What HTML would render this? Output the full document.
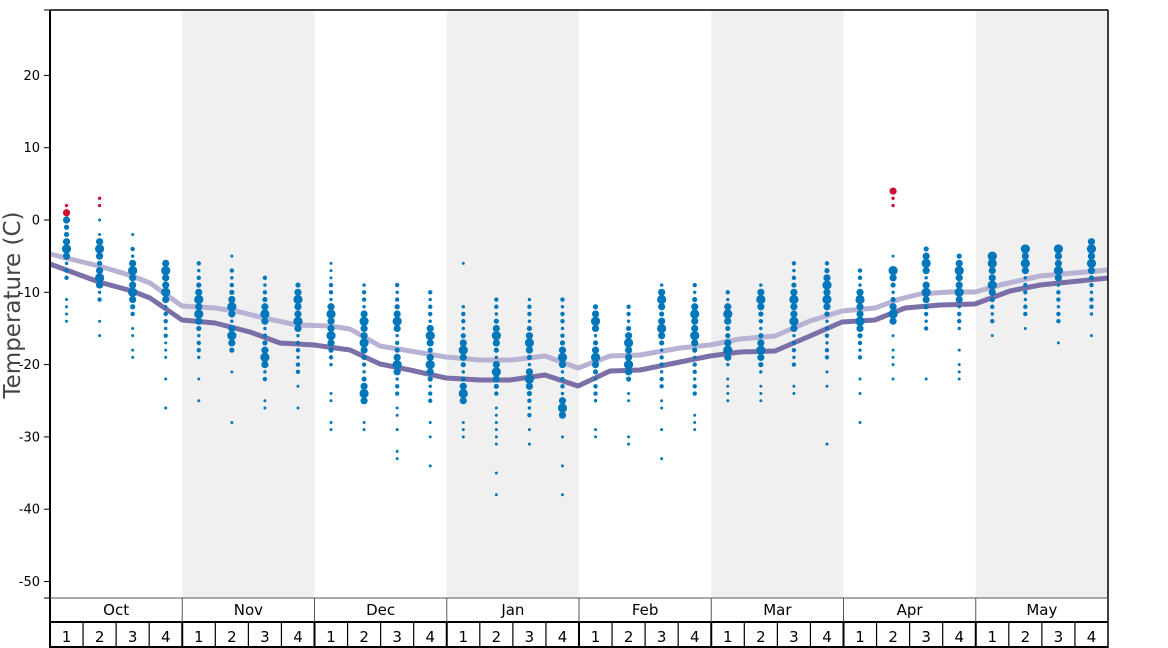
<!DOCTYPE html>
<html><head><meta charset="utf-8"><style>
body{margin:0;background:#fff}
svg{display:block;font-family:"DejaVu Sans","Liberation Sans",sans-serif}
</style></head><body>
<svg id="s" width="1168" height="648" viewBox="0 0 1168 648" xmlns="http://www.w3.org/2000/svg">
<rect width="1168" height="648" fill="#fff"/>
<g id="bg"></g>
<g id="lines"></g>
<g id="dots"></g>
<g id="axes"></g>
<text transform="translate(20,305) rotate(-90)" text-anchor="middle" font-size="23" fill="#444">Temperature (C)</text>
</svg>
<script>
const NS="http://www.w3.org/2000/svg";
function el(p,t,a,txt){const e=document.createElementNS(NS,t);for(const k in a)e.setAttribute(k,a[k]);if(txt!==undefined)e.textContent=txt;p.appendChild(e);return e;}
const X0=50,X1=1108,MW=(X1-X0)/8,WW=MW/4;
const Y=t=>220-t*7.23;
const bg=document.getElementById('bg'),dots=document.getElementById('dots'),ax=document.getElementById('axes'),ln=document.getElementById('lines');
for(let m=1;m<8;m+=2)el(bg,'rect',{x:X0+m*MW,y:10,width:MW,height:588,fill:'#f0f0f0'});
const light=[[50,254],[66,258],[99,266],[132,276],[150,283],[182,306],[215,308],[240,312],[264,318],[297,325],[330,326],[350,329],[380,346],[410,351],[446,357],[480,360],[512,360],[545,356],[578,368],[610,356],[640,355],[680,348],[710,345],[740,339],[775,336],[810,321],[842,311],[875,308],[900,299],[920,294],[950,292],[975,292],[1000,285],[1040,276],[1108,270]];
const dark=[[50,264],[99,282],[132,291],[150,298],[182,320],[215,323],[250,332],[280,343],[314,345],[350,350],[380,364],[410,370],[446,378],[480,380],[510,380],[545,375],[578,386],[610,371],[640,370],[680,362],[710,356],[740,352],[775,351],[810,336],[842,322],[875,320],[905,308],[940,305],[975,304],[1010,291],[1040,285],[1108,278]];
el(ln,'polyline',{points:light.map(p=>p.join(',')).join(' '),fill:'none',stroke:'#b8b2d3','stroke-width':5,'stroke-linejoin':'round'});
el(ln,'polyline',{points:dark.map(p=>p.join(',')).join(' '),fill:'none',stroke:'#7c6fa8','stroke-width':5,'stroke-linejoin':'round'});
const C=[
[0,-8,[-4,1],[-11,-12,-13,-14],[2]],
[-3,-11,[-8,-4],[0,-2,-14,-16],[3,2]],
[-4,-13,[-7,-10],[-2,-15,-16,-18,-19],[]],
[-6,-16,[-10,-7],[-17,-18,-19,-22,-26],[]],
[-6,-19,[-11,-13],[-22,-25],[]],
[-7,-18,[-12,-16],[-5,-21,-28],[]],
[-8,-22,[-13,-19],[-25,-26],[]],
[-9,-21,[-11,-14],[-23,-26],[]],
[-9,-20,[-13,-16],[-6,-7,-8,-24,-25,-28,-29],[]],
[-9,-25,[-14,-17,-24],[-28,-29],[]],
[-9,-24,[-14,-20],[-26,-27,-29,-32,-33],[]],
[-10,-25,[-16,-20],[-28,-30,-34],[]],
[-12,-25,[-18,-24],[-6,-28,-29,-30],[]],
[-11,-24,[-16,-21],[-26,-27,-28,-29,-30,-31,-35,-38],[]],
[-11,-27,[-17,-22],[-29,-31],[]],
[-11,-27,[-19,-26],[-30,-34,-38],[]],
[-12,-25,[-14,-19],[-29,-30],[]],
[-12,-22,[-17,-20],[-24,-25,-30,-31],[]],
[-9,-23,[-11,-15],[-25,-26,-29,-33],[]],
[-9,-24,[-13,-16],[-27,-28,-29],[]],
[-10,-20,[-13,-18],[-22,-23,-24,-25],[]],
[-9,-21,[-11,-18],[-23,-24,-25],[]],
[-6,-20,[-11,-14],[-23,-24],[]],
[-6,-19,[-9,-11],[-21,-23,-31],[]],
[-7,-19,[-11,-14],[-22,-24,-28],[]],
[-7,-14,[-7,-13],[-5,-16,-18,-19,-20,-22],[4,3,2]],
[-4,-15,[-6,-10],[-22],[]],
[-5,-15,[-7,-10],[-18,-20,-21,-22],[]],
[-5,-14,[-5,-6,-9],[-16],[]],
[-4,-13,[-4,-6],[-15],[]],
[-4,-14,[-4,-7],[-17],[]],
[-3,-13,[-4,-6],[-16],[]]];
C.forEach((c,i)=>{const x=X0+WW*(i+0.5);
 for(let t=c[0];t>=c[1];t--){let d=Math.min(...c[2].map(m=>Math.abs(m-t)));let r=Math.max(2.2,4.6-1.0*d);if((t+i)%3==0&&d>1)r=1.7;el(dots,'circle',{cx:x,cy:Y(t),r:r,fill:'#0077bb'});}
 c[3].forEach(t=>el(dots,'circle',{cx:x,cy:Y(t),r:1.5,fill:'#0077bb'}));
 c[4].forEach((t,j)=>el(dots,'circle',{cx:x,cy:Y(t),r:j==0&&c[4].length>2?3.6:1.7,fill:'#cc1133'}));
 if(i==0)el(dots,'circle',{cx:x,cy:Y(1),r:3.6,fill:'#cc1133'});
});
el(ax,'line',{x1:X0,y1:10,x2:X1,y2:10,stroke:'#000','stroke-width':1.5});
el(ax,'line',{x1:X1,y1:10,x2:X1,y2:648,stroke:'#000','stroke-width':1.5});
el(ax,'line',{x1:X0,y1:10,x2:X0,y2:648,stroke:'#000','stroke-width':2});
el(ax,'line',{x1:44,y1:10,x2:X0,y2:10,stroke:'#000','stroke-width':1});
el(ax,'line',{x1:44,y1:598,x2:X0,y2:598,stroke:'#000','stroke-width':1});
for(let t=20;t>=-50;t-=10){const y=Y(t);el(ax,'line',{x1:44,y1:y,x2:X0,y2:y,stroke:'#000'});el(ax,'text',{x:40,y:y+4.5,'text-anchor':'end','font-size':13,fill:'#000'},String(t));}
el(ax,'line',{x1:X0,y1:598,x2:X1,y2:598,stroke:'#555','stroke-width':1});
el(ax,'line',{x1:X0,y1:622,x2:X1,y2:622,stroke:'#000','stroke-width':2});
el(ax,'line',{x1:X0,y1:647,x2:X1,y2:647,stroke:'#000','stroke-width':2});
const M=['Oct','Nov','Dec','Jan','Feb','Mar','Apr','May'];
M.forEach((m,i)=>{const x=X0+i*MW;if(i>0)el(ax,'line',{x1:x,y1:598,x2:x,y2:622,stroke:'#555'});
 el(ax,'text',{x:x+MW/2,y:615,'text-anchor':'middle','font-size':15,fill:'#000'},m);
 for(let w=0;w<4;w++){const wx=x+w*WW;if(i+w>0)el(ax,'line',{x1:wx,y1:622,x2:wx,y2:648,stroke:'#000','stroke-width':w==0?2:1.2});
  el(ax,'text',{x:wx+WW/2,y:642,'text-anchor':'middle','font-size':15,fill:'#000'},String(w+1));}
});
</script>
</body></html>
